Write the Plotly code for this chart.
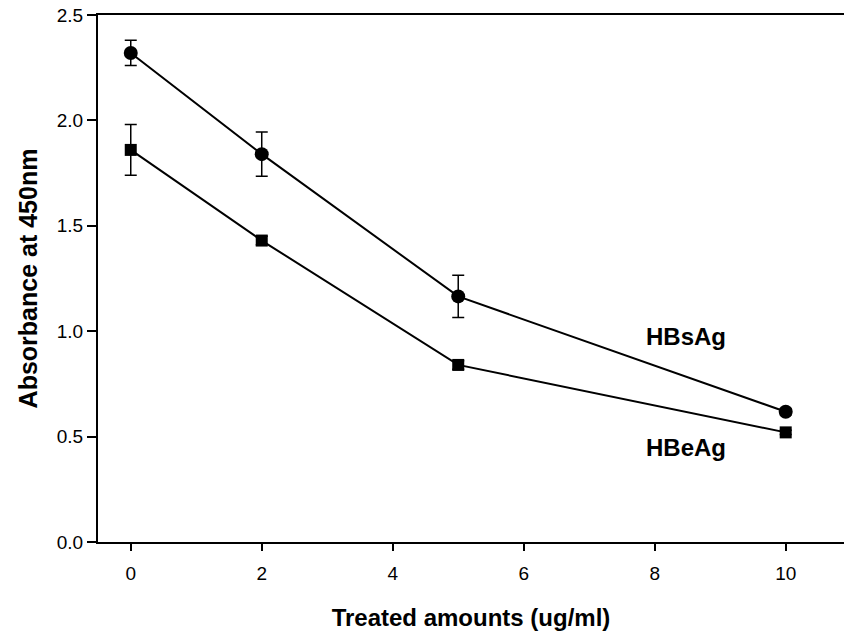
import plotly.graph_objects as go

# Treatment doses (ug/ml)
doses = [0, 2, 5, 10]

# Mean absorbance at 450 nm and standard errors
hbsag = [2.32, 1.84, 1.165, 0.618]
hbsag_err = [0.06, 0.105, 0.10, 0.015]

hbeag = [1.86, 1.43, 0.84, 0.52]
hbeag_err = [0.12, 0.02, 0.02, 0.01]

series_labels = ["HBsAg", "HBeAg"]
label_pos = [(8.47, 0.975), (8.47, 0.446)]

FONT = "Arial, Liberation Sans, sans-serif"

fig = go.Figure()

fig.add_trace(go.Scatter(
    x=doses, y=hbsag, mode="lines+markers", name=series_labels[0],
    line=dict(color="black", width=2),
    marker=dict(symbol="circle", size=14, color="black"),
    error_y=dict(type="data", array=hbsag_err, visible=True,
                 color="black", thickness=1.5, width=6),
))

fig.add_trace(go.Scatter(
    x=doses, y=hbeag, mode="lines+markers", name=series_labels[1],
    line=dict(color="black", width=2),
    marker=dict(symbol="square", size=12, color="black"),
    error_y=dict(type="data", array=hbeag_err, visible=True,
                 color="black", thickness=1.5, width=6),
))

for text, (lx, ly) in zip(series_labels, label_pos):
    fig.add_annotation(
        x=lx, y=ly, xref="x", yref="y", text=f"<b>{text}</b>",
        showarrow=False, font=dict(family=FONT, size=24, color="black"),
    )

fig.update_layout(
    width=844, height=634,
    margin=dict(l=98, r=0, t=15, b=92),
    paper_bgcolor="white", plot_bgcolor="white",
    showlegend=False,
    font=dict(family=FONT, color="black"),
)

fig.update_xaxes(
    range=[-0.5, 10.89],
    tickvals=[0, 2, 4, 6, 8, 10],
    ticks="outside", ticklen=7, tickwidth=1.5, tickcolor="black",
    ticklabelstandoff=6,
    showline=True, linecolor="black", linewidth=2, mirror=True,
    showgrid=False, zeroline=False,
    tickfont=dict(family=FONT, size=19, color="black"),
    title=dict(text="<b>Treated amounts (ug/ml)</b>", standoff=26,
               font=dict(family=FONT, size=24, color="black")),
)

fig.update_yaxes(
    range=[0, 2.5],
    tickvals=[0, 0.5, 1.0, 1.5, 2.0, 2.5], tickformat=".1f",
    ticks="outside", ticklen=9, tickwidth=1.5, tickcolor="black",
    showline=True, linecolor="black", linewidth=2,
    showgrid=False, zeroline=False,
    tickfont=dict(family=FONT, size=19, color="black"),
    title=dict(text="<b>Absorbance at 450nm</b>", standoff=12,
               font=dict(family=FONT, size=25, color="black")),
)

fig.write_html("out.html")
